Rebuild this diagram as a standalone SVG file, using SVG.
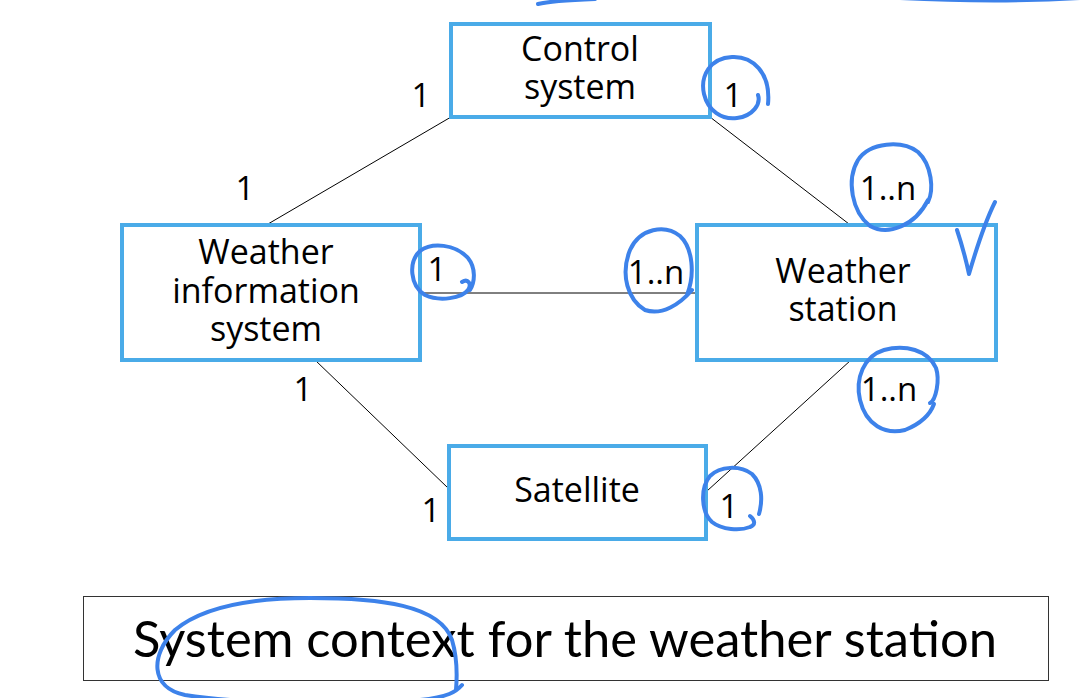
<svg xmlns="http://www.w3.org/2000/svg" width="1090" height="698" viewBox="0 0 1090 698">
<style>
.box{fill:#ffffff;stroke:#4aabe8;stroke-width:4}
.lbl{font-family:"Open Sans","Noto Sans",sans-serif;font-size:34px;fill:#000;text-anchor:middle}
.mul{font-family:"Open Sans","Noto Sans",sans-serif;font-size:33px;fill:#000;text-anchor:middle}
.conn{stroke:#000;stroke-width:1;fill:none}
.ink{fill:none;stroke:#3d82ea;stroke-width:4;stroke-linecap:round;stroke-linejoin:round}
.cap{font-family:"Gill Sans","Lato","Noto Sans",sans-serif;font-size:50px;fill:#000;text-anchor:middle}
</style>
<rect width="1090" height="698" fill="#ffffff"/>
<g id="connectors">
<line class="conn" x1="451" y1="117" x2="268" y2="224"/>
<line class="conn" x1="710" y1="117" x2="849" y2="224"/>
<line class="conn" x1="420" y1="293" x2="696" y2="293" stroke-width="1.5"/>
<line class="conn" x1="315" y1="360" x2="448" y2="488"/>
<line class="conn" x1="707" y1="491" x2="851" y2="360"/>
</g>
<g id="control-system">
<rect class="box" x="451" y="24" width="259" height="93"/>
<text class="lbl" x="580" y="61">Control</text>
<text class="lbl" x="580" y="99">system</text>
</g>
<g id="weather-information-system">
<rect class="box" x="122" y="225" width="298" height="135"/>
<text class="lbl" x="266" y="264">Weather</text>
<text class="lbl" x="266" y="303">information</text>
<text class="lbl" x="266" y="341">system</text>
</g>
<g id="weather-station">
<rect class="box" x="697" y="225" width="299" height="135"/>
<text class="lbl" x="843" y="283">Weather</text>
<text class="lbl" x="843" y="321">station</text>
</g>
<g id="satellite">
<rect class="box" x="449" y="446" width="257" height="93"/>
<text class="lbl" x="577" y="502">Satellite</text>
</g>
<g id="multiplicities">
<text class="mul" x="421" y="107">1</text>
<text class="mul" x="733" y="107">1</text>
<text class="mul" x="245" y="200">1</text>
<text class="mul" x="888" y="200">1..n</text>
<text class="mul" x="437" y="281">1</text>
<text class="mul" x="656" y="284">1..n</text>
<text class="mul" x="303" y="401">1</text>
<text class="mul" x="889" y="401">1..n</text>
<text class="mul" x="431" y="522">1</text>
<text class="mul" x="729" y="518">1</text>
</g>
<g id="caption">
<rect x="83.5" y="596.5" width="965" height="84" fill="#ffffff" stroke="#333" stroke-width="1"/>
<text class="cap" x="565" y="657" textLength="864" lengthAdjust="spacingAndGlyphs">System context for the weather station</text>
</g>
<g id="annotations">
<path class="ink" d="M538,4 C550,1 570,0 595,-1"/>
<path class="ink" d="M900,-2 C960,1 1030,1 1080,-2"/>
<path class="ink" d="M768,104 C771,72 752,56 732,57 C710,58 700,76 704,94 C708,111 722,120 737,118 C753,116 761,104 758,95"/>
<path class="ink" d="M928,202 C934,190 932,165 918,152 C902,140 870,142 858,160 C846,180 852,212 870,226 C888,236 915,226 928,200"/>
<path class="ink" d="M957,230 C962,245 966,260 969,274 C976,250 985,222 995,202"/>
<path class="ink" d="M687,295 C695,275 693,248 680,236 C665,224 640,228 630,250 C620,275 628,300 645,310 C662,316 680,304 692,290"/>
<path class="ink" d="M462,282 C468,278 472,284 468,290 C462,298 440,302 425,295 C410,286 408,262 420,251 C432,242 455,244 468,258 C476,268 475,282 470,290"/>
<path class="ink" d="M930,403 C936,400 940,380 936,368 C928,350 905,344 884,350 C864,356 855,378 860,400 C866,425 885,435 905,430 C920,424 930,415 934,404"/>
<path class="ink" d="M750,516 C755,520 756,525 750,527 C740,531 722,530 712,522 C701,512 700,488 710,476 C720,466 740,465 752,474 C762,484 763,500 759,514"/>
<path class="ink" d="M462,685 C456,692 448,697 420,700 C360,705 250,705 185,695 C150,688 150,655 175,630 C205,605 260,598 310,598 C380,598 440,605 452,640 C458,660 457,678 456,690"/>
</g>
</svg>
